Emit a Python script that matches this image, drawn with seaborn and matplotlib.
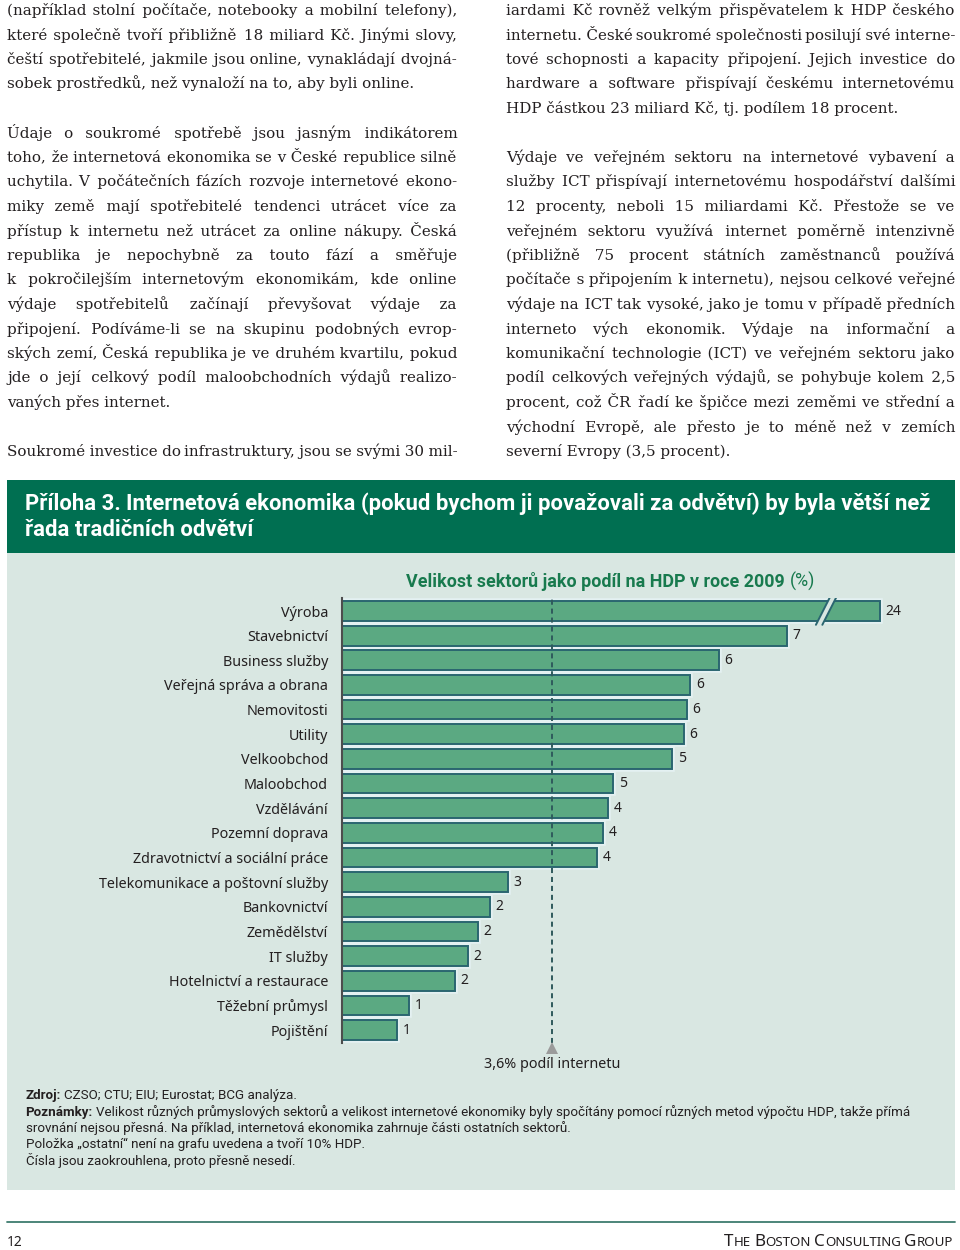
import matplotlib
matplotlib.use("Agg")
import matplotlib.pyplot as plt
import seaborn as sns
import pandas as pd
from matplotlib import font_manager
from matplotlib.ft2font import FT2Font
from matplotlib import patheffects as pe
from matplotlib.patches import Rectangle, Polygon

# ---------------- data ----------------
sectors = [
    "Výroba", "Stavebnictví", "Business služby", "Veřejná správa a obrana",
    "Nemovitosti", "Utility", "Velkoobchod", "Maloobchod", "Vzdělávání",
    "Pozemní doprava", "Zdravotnictví a sociální práce",
    "Telekomunikace a poštovní služby", "Bankovnictví", "Zemědělství",
    "IT služby", "Hotelnictví a restaurace", "Těžební průmysl", "Pojištění",
]
bar_lengths = [24, 7.63, 6.46, 5.97, 5.91, 5.86, 5.66, 4.65, 4.56,
               4.47, 4.37, 2.85, 2.54, 2.33, 2.16, 1.94, 1.15, 0.94]
value_labels = ["24", "7", "6", "6", "6", "6", "5", "5", "4",
                "4", "4", "3", "2", "2", "2", "2", "1", "1"]
internet_share = 3.6
internet_label = "3,6% podíl internetu"

chart_subtitle = "Velikost sektorů jako podíl na HDP v roce 2009"
chart_subtitle_unit = "(%)"
exhibit_label = "Příloha 3."
exhibit_title_lines = [
    "Internetová ekonomika (pokud bychom ji považovali za odvětví) by byla větší než",
    "řada tradičních odvětví",
]
source_label = "Zdroj:"
source_text = "CZSO; CTU; EIU; Eurostat; BCG analýza."
notes_label = "Poznámky:"
notes_first = ("Velikost různých průmyslových sektorů a velikost internetové ekonomiky "
               "byly spočítány pomocí různých metod výpočtu HDP, takže přímá")
notes_more = [
    "srovnání nejsou přesná. Na příklad, internetová ekonomika zahrnuje části ostatních sektorů.",
    "Položka „ostatní“ není na grafu uvedena a tvoří 10% HDP.",
    "Čísla jsou zaokrouhlena, proto přesně nesedí.",
]
page_number = "12"
footer_brand = "The Boston Consulting Group"

left_column = [
    ["(například stolní počítače, notebooky a mobilní telefony),",
     "které společně tvoří přibližně 18 miliard Kč. Jinými slovy,",
     "čeští spotřebitelé, jakmile jsou online, vynakládají dvojná-",
     "sobek prostředků, než vynaloží na to, aby byli online."],
    ["Údaje o soukromé spotřebě jsou jasným indikátorem",
     "toho, že internetová ekonomika se v České republice silně",
     "uchytila. V počátečních fázích rozvoje internetové ekono-",
     "miky země mají spotřebitelé tendenci utrácet více za",
     "přístup k internetu než utrácet za online nákupy. Česká",
     "republika je nepochybně za touto fází a směřuje",
     "k pokročilejším internetovým ekonomikám, kde online",
     "výdaje spotřebitelů začínají převyšovat výdaje za",
     "připojení. Podíváme-li se na skupinu podobných evrop-",
     "ských zemí, Česká republika je ve druhém kvartilu, pokud",
     "jde o její celkový podíl maloobchodních výdajů realizo-",
     "vaných přes internet."],
    ["Soukromé investice do infrastruktury, jsou se svými 30 mil-"],
]
right_column = [
    ["iardami Kč rovněž velkým přispěvatelem k HDP českého",
     "internetu. České soukromé společnosti posilují své interne-",
     "tové schopnosti a kapacity připojení. Jejich investice do",
     "hardware a software přispívají českému internetovému",
     "HDP částkou 23 miliard Kč, tj. podílem 18 procent."],
    ["Výdaje ve veřejném sektoru na internetové vybavení a",
     "služby ICT přispívají internetovému hospodářství dalšími",
     "12 procenty, neboli 15 miliardami Kč. Přestože se ve",
     "veřejném sektoru využívá internet poměrně intenzivně",
     "(přibližně 75 procent státních zaměstnanců používá",
     "počítače s připojením k internetu), nejsou celkové veřejné",
     "výdaje na ICT tak vysoké, jako je tomu v případě předních",
     "interneto vých ekonomik. Výdaje na informační a",
     "komunikační technologie (ICT) ve veřejném sektoru jako",
     "podíl celkových veřejných výdajů, se pohybuje kolem 2,5",
     "procent, což ČR řadí ke špičce mezi zeměmi ve střední a",
     "východní Evropě, ale přesto je to méně než v zemích",
     "severní Evropy (3,5 procent)."],
]

# ---------------- style ----------------
DARK_GREEN = "#006F51"
PANEL = "#D9E7E2"
BAR = "#5BA982"
BAR_EDGE = "#2A6670"
HALO = "#E4F1F2"
TEXT = "#231F20"
SUB_GREEN = "#187A4E"
DASH = "#2F5A5C"

sns.set_theme(style="white")
plt.rcParams["font.family"] = ["Noto Sans", "DejaVu Sans"]

available = {f.name for f in font_manager.fontManager.ttflist}
if "Liberation Sans Narrow" in available:
    COND = "Liberation Sans Narrow"
elif "DejaVu Sans Condensed" in available:
    COND = "DejaVu Sans Condensed"
else:
    COND = "Roboto"

W, H = 960, 1250
fig = plt.figure(figsize=(W / 100, H / 100), dpi=100)
page = fig.add_axes([0, 0, 1, 1])
page.set_xlim(0, W)
page.set_ylim(H, 0)
page.axis("off")
renderer = fig.canvas.get_renderer()


def tw(s, **kw):
    t = page.text(0, 0, s, **kw)
    w = t.get_window_extent(renderer).width
    t.remove()
    return w


def space_w(**kw):
    return tw("x x", **kw) - tw("xx", **kw)


def runs_width(runs, size):
    total = 0
    for i, (s, kw) in enumerate(runs):
        total += tw(s, fontsize=size, **kw)
        if i < len(runs) - 1:
            total += space_w(fontsize=size, **kw)
    return total


def draw_runs(x, y, runs, size, ha="left"):
    total = runs_width(runs, size)
    if ha == "right":
        x -= total
    elif ha == "center":
        x -= total / 2
    for i, (s, kw) in enumerate(runs):
        page.text(x, round(y), s, fontsize=size, ha="left", va="baseline", **kw)
        x += tw(s, fontsize=size, **kw)
        if i < len(runs) - 1:
            x += space_w(fontsize=size, **kw)


def fit_runs(runs, target, base=10.0):
    return base * target / runs_width(runs, base)


# ---------------- body text (two justified columns) ----------------
BODY_FAMILY = "DejaVu Serif"
body_size = 10.0 * 410 / tw(left_column[0][-1], family=BODY_FAMILY, fontsize=10)
BODY = dict(family=BODY_FAMILY, color=TEXT, fontsize=body_size)

# a narrow space glyph lets a justified line be a single text (one shared baseline)
_cmap = FT2Font(font_manager.findfont(font_manager.FontProperties(family=BODY_FAMILY))).get_charmap()
FILL = None
for cp in (0x200A, 0x2009, 0x2006):
    if cp in _cmap:
        FILL = chr(cp)
        break


def justify_line(words, target):
    if FILL is None:
        return None
    unit = (tw("x" + FILL * 20 + "x", **BODY) - tw("xx", **BODY)) / 20
    ws = [tw(w, **BODY) for w in words]
    gaps = len(words) - 1
    need = (target - sum(ws)) / gaps
    counts, acc = [], 0.0
    for _ in range(gaps):
        acc += need / unit
        n = max(1, int(round(acc)) - sum(counts))
        counts.append(n)

    def build():
        s = words[0]
        for n, w in zip(counts, words[1:]):
            s += FILL * n + w
        return s

    s = build()
    for k in range(30):
        diff = target - tw(s, **BODY)
        if abs(diff) <= unit / 2:
            break
        i = k % gaps
        if diff > 0:
            counts[i] += 1
        elif counts[i] > 1:
            counts[i] -= 1
        s = build()
    return s


def draw_column(paragraphs, x0, x1, continues):
    slot = 0
    for pi, para in enumerate(paragraphs):
        for li, line in enumerate(para):
            y = round(15 + 24.5 * slot)
            ragged = li == len(para) - 1 and not (continues and pi == len(paragraphs) - 1)
            words = line.split(" ")
            if ragged or len(words) == 1:
                page.text(x0, y, line, ha="left", va="baseline", **BODY)
            else:
                s = justify_line(words, x1 - x0)
                if s is not None:
                    page.text(x0, y, s, ha="left", va="baseline", **BODY)
                else:
                    ws = [tw(w, **BODY) for w in words]
                    gap = (x1 - x0 - sum(ws)) / (len(words) - 1)
                    x = x0
                    for w, wd in zip(words, ws):
                        page.text(x, y, w, ha="left", va="baseline", **BODY)
                        x += wd + gap
            slot += 1
        slot += 1


draw_column(left_column, 7, 457, continues=True)
draw_column(right_column, 506, 955, continues=False)

# ---------------- exhibit header & panel ----------------
page.add_patch(Rectangle((7, 480), 948, 73, color=DARK_GREEN, lw=0))
page.add_patch(Rectangle((7, 553), 948, 637, color=PANEL, lw=0))

t_runs1 = [(exhibit_label, dict(family=COND, weight="bold", color="white")),
           (exhibit_title_lines[0], dict(family=COND, weight="bold", color="white"))]
t_size = fit_runs(t_runs1, 907)
draw_runs(25, 510, t_runs1, t_size)
draw_runs(25, 536, [(exhibit_title_lines[1], dict(family=COND, weight="bold", color="white"))], t_size)

sub_runs = [(chart_subtitle, dict(family=COND, weight="bold", color=SUB_GREEN)),
            (chart_subtitle_unit, dict(family=COND, weight="normal", color=SUB_GREEN))]
sub_size = fit_runs(sub_runs, 409)
draw_runs(610.5, 587, sub_runs, sub_size, ha="center")

# notes
NB = dict(family=COND, weight="bold", color=TEXT)
NR = dict(family=COND, weight="normal", color=TEXT)
n_runs2 = [(notes_label, NB), (notes_first, NR)]
n_size = fit_runs(n_runs2, 884)
draw_runs(25, 1099, [(source_label, NB), (source_text, NR)], n_size)
draw_runs(25, 1116, n_runs2, n_size)
for i, line in enumerate(notes_more):
    draw_runs(26, 1132 + 16.5 * i, [(line, NR)], n_size)

# footer
page.plot([7, 955], [1222, 1222], color="#3E7C6E", lw=1.3)
page.text(7, 1246, page_number, fontsize=10, color=TEXT, ha="left", va="baseline",
          family="Noto Sans")
big, small = 1.0, 0.78
brand_runs = []
for word in footer_brand.split(" "):
    brand_runs.append((word[0].upper(), word[1:].upper()))
base = 10.0


def brand_width(sz):
    tot = 0
    for i, (a, b) in enumerate(brand_runs):
        tot += tw(a, fontsize=sz * big, family="Noto Sans") + tw(b, fontsize=sz * small, family="Noto Sans")
        if i < len(brand_runs) - 1:
            tot += space_w(fontsize=sz * small, family="Noto Sans")
    return tot


b_size = base * 229 / brand_width(base)
x = 953 - brand_width(b_size)
for i, (a, b) in enumerate(brand_runs):
    page.text(x, 1246, a, fontsize=b_size * big, family="Noto Sans", color=TEXT, va="baseline")
    x += tw(a, fontsize=b_size * big, family="Noto Sans")
    page.text(x, 1246, b, fontsize=b_size * small, family="Noto Sans", color=TEXT, va="baseline")
    x += tw(b, fontsize=b_size * small, family="Noto Sans")
    if i < len(brand_runs) - 1:
        x += space_w(fontsize=b_size * small, family="Noto Sans")

# ---------------- chart ----------------
PX_PER_UNIT = 58.33
BROKEN_DISPLAY = 9.22           # visual length of the bar that has an axis break
display_lengths = [min(v, BROKEN_DISPLAY) for v in bar_lengths]
df = pd.DataFrame({"sector": sectors, "length": display_lengths})

ax_l, ax_r, ax_t, ax_b = 342, 942, 598, 1043
ax = fig.add_axes([ax_l / W, 1 - ax_b / H, (ax_r - ax_l) / W, (ax_b - ax_t) / H])
ax.patch.set_alpha(0)

sns.barplot(data=df, x="length", y="sector", orient="h", color=BAR, saturation=1,
            edgecolor=BAR_EDGE, linewidth=1.4, width=0.8, ax=ax, zorder=2)
for p in ax.patches:
    p.set_path_effects([pe.withStroke(linewidth=4, foreground=HALO)])

row0, row_step = 611, 24.65
ax.set_xlim(0, (ax_r - ax_l) / PX_PER_UNIT)
ax.set_ylim((ax_b - row0) / row_step, (ax_t - row0) / row_step)
for s in ["top", "right", "bottom"]:
    ax.spines[s].set_visible(False)
ax.spines["left"].set_color("#4D4D4D")
ax.spines["left"].set_linewidth(1.5)
ax.spines["left"].set_zorder(6)
ax.set_xticks([])
ax.set_xlabel("")
ax.set_ylabel("")

lab_size = 10.0 * 229 / tw("Telekomunikace a poštovní služby", fontsize=10, family="Noto Sans")
ax.tick_params(axis="y", length=0, pad=10, labelsize=lab_size, labelcolor=TEXT)

ax.bar_label(ax.containers[0], labels=value_labels, padding=4, fontsize=lab_size * 0.97,
             color=TEXT)

ax.axvline(internet_share, color=DASH, lw=1.4, ls=(0, (2.6, 2.0)), zorder=5)

# axis break on the first (longest) bar
bx, slant, gap, hy = 8.3, 0.12, 0.055, 0.56
brk = Polygon([(bx - slant - gap, hy), (bx + slant - gap, -hy),
               (bx + slant + gap, -hy), (bx - slant + gap, hy)],
              closed=True, facecolor=PANEL, edgecolor="none", zorder=7)
ax.add_patch(brk)
for d in (-gap, gap):
    ax.plot([bx - slant + d, bx + slant + d], [hy, -hy], color=BAR_EDGE, lw=1.4, zorder=8)

ax.plot([internet_share], [(1048 - row0) / row_step], marker="^", ms=9, color="#9B9B9B",
        mew=0, clip_on=False, zorder=9)
int_size = 10.0 * 136 / tw(internet_label, fontsize=10, family="Noto Sans")
ax.text(internet_share, (1068 - row0) / row_step, internet_label, ha="center", va="baseline",
        fontsize=int_size, color=TEXT, clip_on=False)

fig.savefig("out.png", dpi=100)
